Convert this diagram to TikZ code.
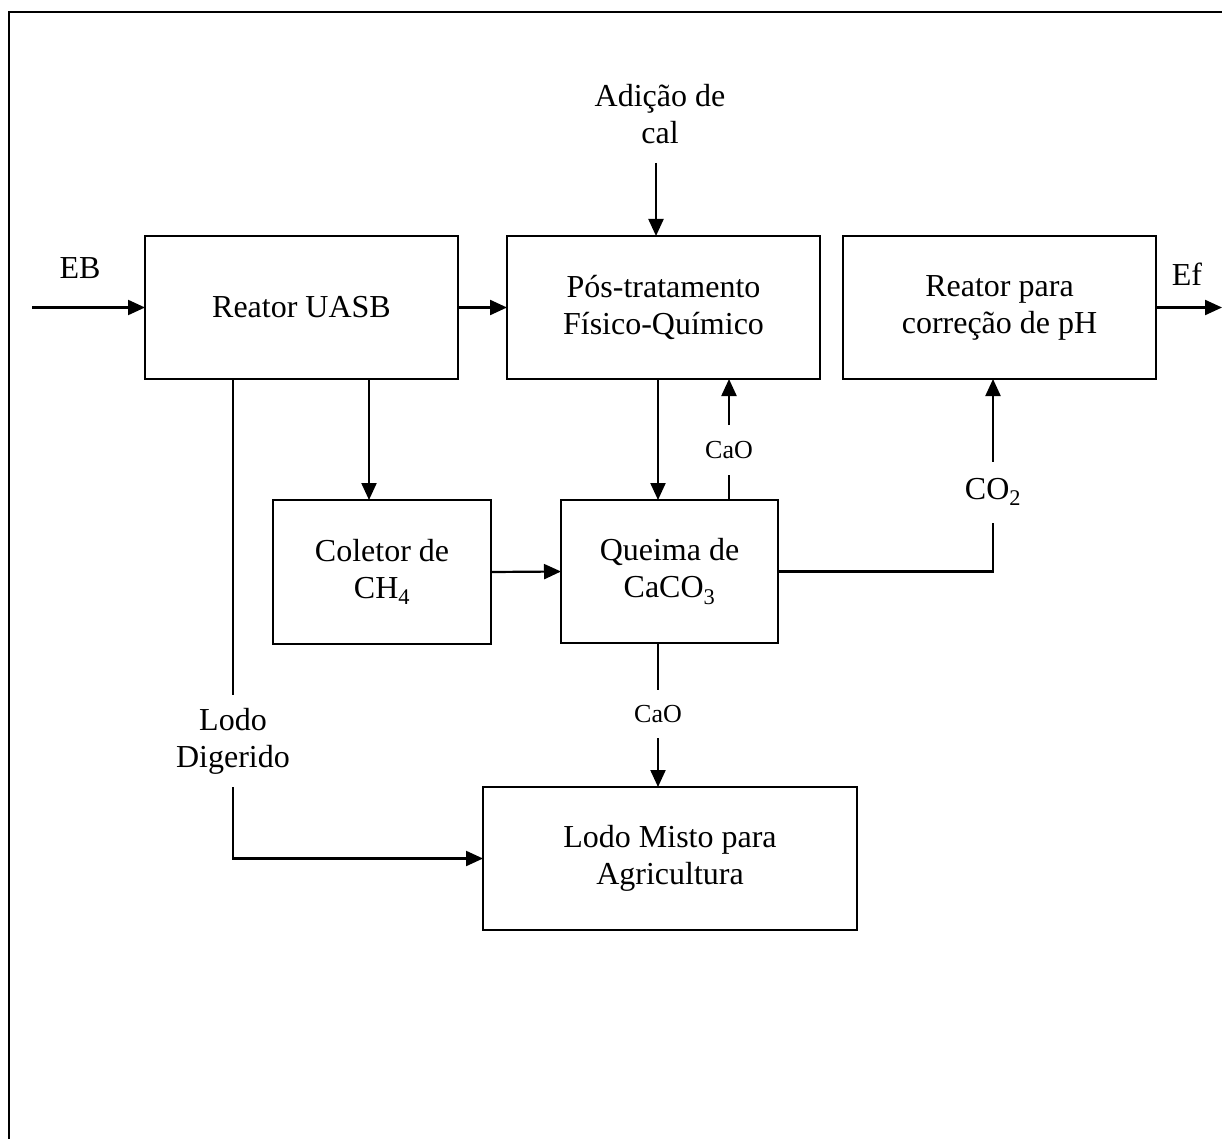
\documentclass[tikz,border=0pt]{standalone}
\usepackage{fontspec}
\setmainfont{Liberation Serif}
\usetikzlibrary{arrows.meta}
\begin{document}
\begin{tikzpicture}[x=1pt,y=-1pt,
  every node/.style={font=\fontsize{32}{37}\selectfont, align=center},
  proc/.style={draw, line width=2.2pt, inner sep=0pt, outer sep=0pt},
  lbl/.style={inner sep=0pt, outer sep=0pt},
  small/.style={font=\fontsize{26}{31}\selectfont},
  conn/.style={line width=2.2pt},
  arr/.style={conn, -{Triangle[length=17pt,width=15pt]}}]
\useasboundingbox (0,0) rectangle (1222,1139);
\draw[line width=2.4pt] (9,1139) -- (9,12) -- (1222,12);

\node[proc, minimum width=313pt, minimum height=143pt] (uasb) at (301.5,307.5) {Reator UASB};
\node[proc, minimum width=313pt, minimum height=143pt] (pos) at (663.5,307.5) {Pós-tratamento\\Físico-Químico};
\node[proc, minimum width=313pt, minimum height=143pt] (ph) at (999.5,307.5) {Reator para\\correção de pH};
\node[proc, minimum width=218pt, minimum height=144pt] (coletor) at (382,572) {Coletor de\\CH\textsubscript{4}};
\node[proc, minimum width=217pt, minimum height=143pt] (queima) at (669.5,571.5) {Queima de\\CaCO\textsubscript{3}};
\node[proc, minimum width=374pt, minimum height=143pt] (misto) at (670,858.5) {Lodo Misto para\\Agricultura};

\node[lbl] (eb) at (80,268) {EB};
\node[lbl] (ef) at (1187,274) {Ef};
\node[lbl] (cal) at (660,114) {Adição de\\cal};
\node[lbl, small, minimum height=50pt] (cao1) at (729,450) {CaO};
\node[lbl, small, minimum height=48pt] (cao2) at (658,714) {CaO};
\node[lbl, minimum height=61pt] (co2) at (993,492) {CO\textsubscript{2}};
\node[lbl, minimum height=92pt] (lodo) at (233,741) {Lodo\\Digerido};

\coordinate (ebin) at (32,307.5);
\coordinate (efout) at (1222,307.5);
\coordinate (calin) at (656,163);
\coordinate (gasx) at (369,0);
\coordinate (posx) at (658,0);

\draw[arr] (ebin) -- (uasb.west);
\draw[arr] (uasb.east) -- (pos.west);
\draw[arr] (ph.east) -- (efout);
\draw[arr] (calin) -- (calin |- pos.north);
\draw[arr] (gasx |- uasb.south) -- (gasx |- coletor.north);
\draw[conn] (lodo.north |- uasb.south) -- (lodo.north);
\draw[arr] (lodo.south) |- (misto.west);
\draw[arr] (posx |- pos.south) -- (posx |- queima.north);
\draw[conn] (cao1.south |- queima.north) -- (cao1.south);
\draw[arr] (cao1.north) -- (cao1.north |- pos.south);
\draw[arr] (coletor.east) -- (queima.west);
\draw[conn] (queima.east) -| (co2.south);
\draw[arr] (co2.north) -- (co2.north |- ph.south);
\draw[conn] (cao2.north |- queima.south) -- (cao2.north);
\draw[arr] (cao2.south) -- (cao2.south |- misto.north);
\end{tikzpicture}
\end{document}
